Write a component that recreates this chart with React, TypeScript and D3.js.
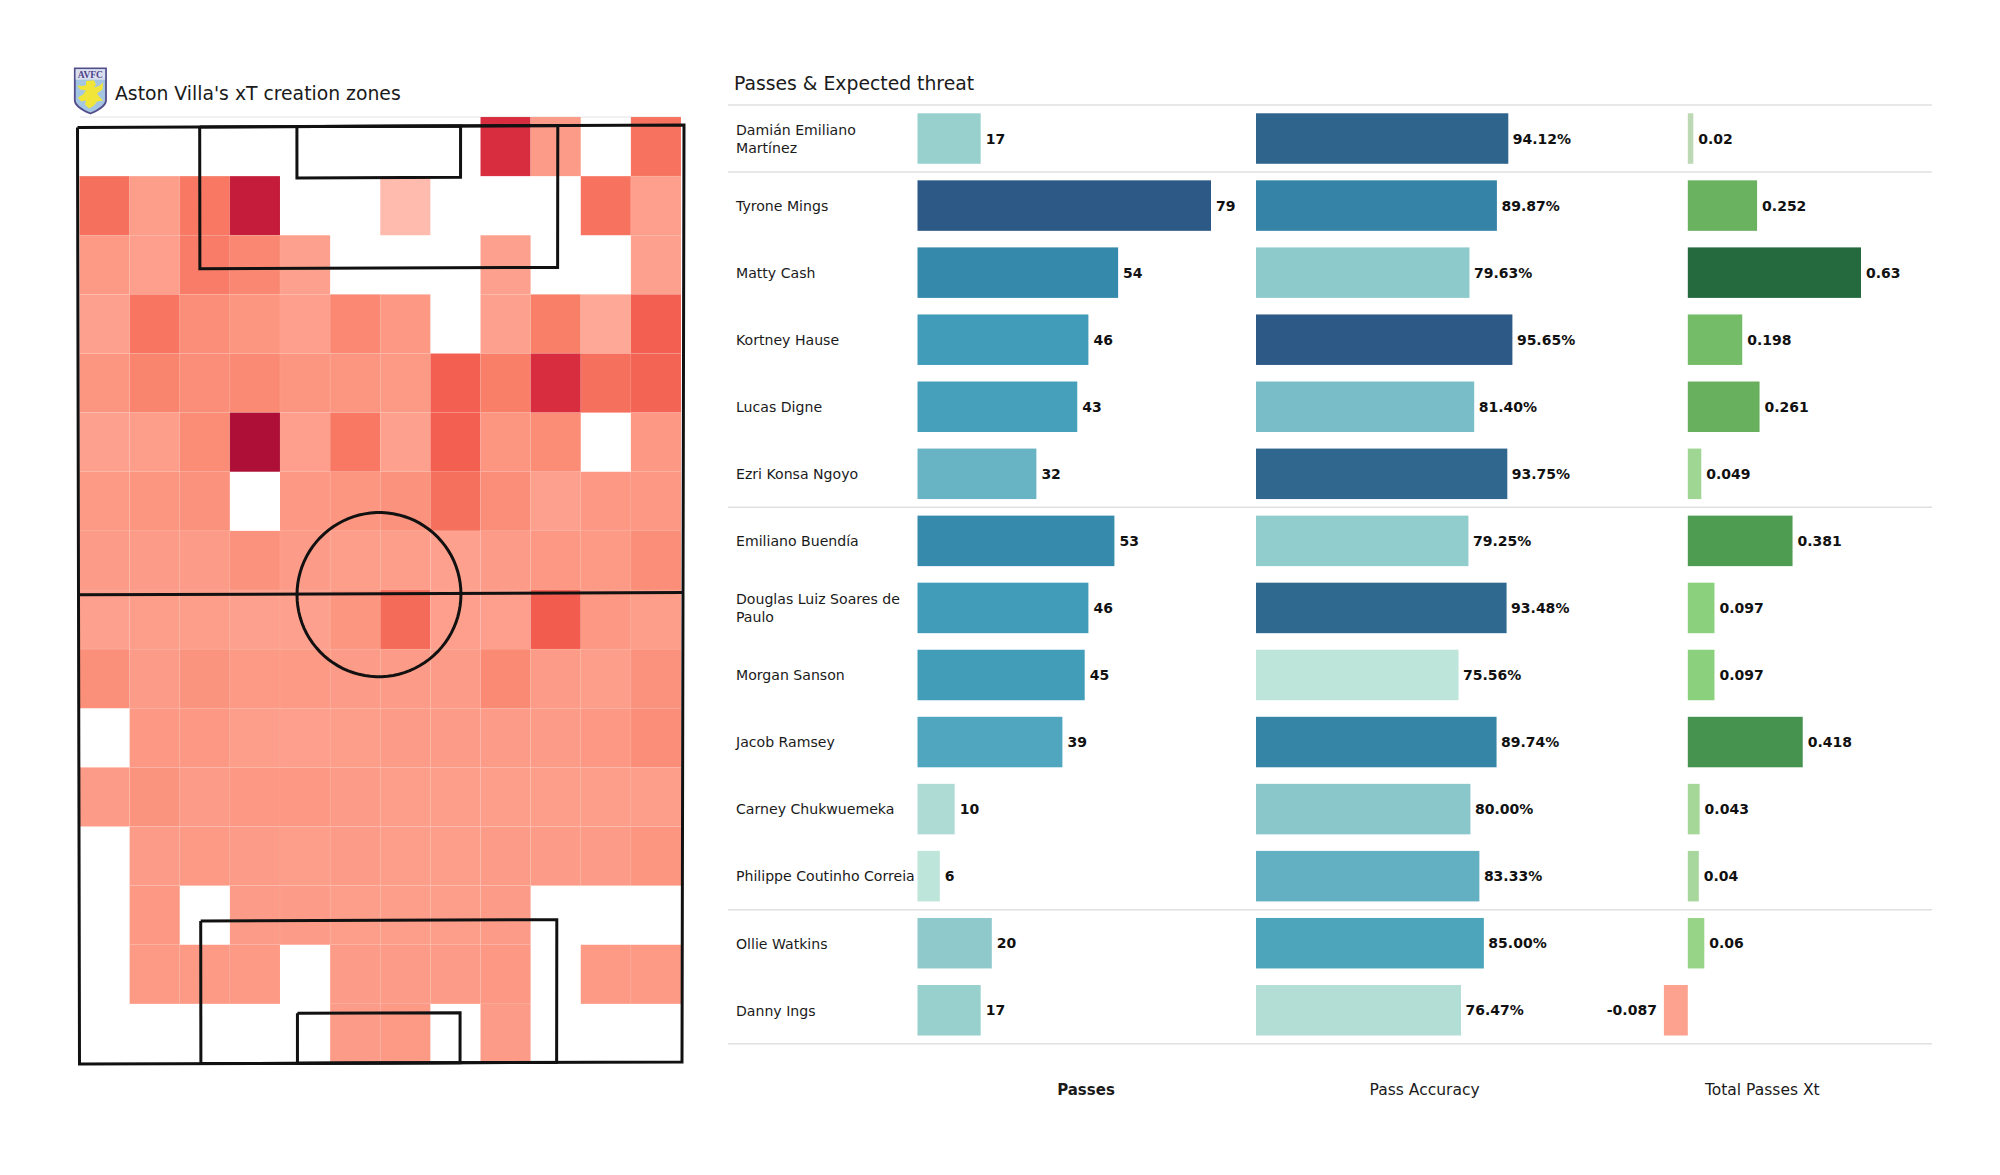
import React from "react";
import * as d3 from "d3";

const FONT = "'DejaVu Sans', sans-serif";

// ---- Heat map (rows top to bottom, null = no value)
const heatRows: (number | null)[][] = [
  [null, null, null, null, null, null, null, null, 80, 25, null, 48],
  [50, 24, 45, 90, null, null, 8, null, null, null, 48, 23],
  [26, 23, 42, 36, 22, null, null, null, 22, null, null, 22],
  [22, 47, 32, 28, 23, 35, 27, null, 22, 40, 17, 57],
  [28, 37, 32, 34, 28, 28, 26, 57, 40, 80, 50, 55],
  [22, 24, 33, 100, 23, 45, 22, 57, 28, 33, null, 27],
  [26, 28, 30, null, 27, 28, 30, 50, 32, 22, 27, 27],
  [25, 25, 25, 30, 25, 24, 24, 22, 25, 27, 26, 32],
  [22, 24, 24, 22, 22, 28, 52, 23, 23, 58, 27, 24],
  [31, 25, 29, 26, 26, 25, 25, 25, 34, 25, 24, 30],
  [null, 27, 27, 24, 23, 24, 25, 25, 25, 25, 27, 32],
  [25, 29, 25, 27, 27, 25, 24, 24, 24, 24, 24, 24],
  [null, 25, 26, 25, 24, 25, 24, 24, 25, 25, 25, 28],
  [null, 27, null, 25, 25, 24, 24, 24, 25, null, null, null],
  [null, 26, 26, 26, null, 25, 25, 25, 27, null, 26, 26],
  [null, null, null, null, null, 25, 26, null, 25, null, null, null],
];

// ---- Player table
const players = [
  "Damián Emiliano\nMartínez", "Tyrone Mings", "Matty Cash", "Kortney Hause", "Lucas Digne",
  "Ezri Konsa Ngoyo", "Emiliano Buendía", "Douglas Luiz Soares de\nPaulo", "Morgan Sanson",
  "Jacob Ramsey", "Carney Chukwuemeka", "Philippe Coutinho Correia", "Ollie Watkins", "Danny Ings",
];
const passes = [17, 79, 54, 46, 43, 32, 53, 46, 45, 39, 10, 6, 20, 17];
const accuracy = [94.12, 89.87, 79.63, 95.65, 81.4, 93.75, 79.25, 93.48, 75.56, 89.74, 80, 83.33, 85, 76.47];
const xT = [0.02, 0.252, 0.63, 0.198, 0.261, 0.049, 0.381, 0.097, 0.097, 0.418, 0.043, 0.04, 0.06, -0.087];
const groupEnds = [0, 1, 6, 12, 14];
const columnTitles = ["Passes", "Pass Accuracy", "Total Passes Xt"];

// ---- Scales
const heatColor = d3.scaleLinear<string>()
  .domain([8, 17, 25, 32, 40, 50, 58, 80, 90, 100])
  .range(["#ffbbae", "#fea897", "#fc9c88", "#fb8e78", "#f97f69", "#f6705e", "#f25c4e", "#d82c3f", "#c41c3a", "#ad0f36"]);
const cellX = d3.scaleBand<number>().domain(d3.range(12)).range([79.5, 681]);
const cellY = d3.scaleBand<number>().domain(d3.range(16)).range([117, 1063]);

const rowY = d3.scaleBand<number>().domain(d3.range(players.length)).range([105, 1043.8]).paddingInner(0.247).paddingOuter(0.1235);
const passX = d3.scaleLinear().domain([0, 79]).range([917.5, 1211]);
const accX = d3.scaleLinear().domain([0, 94.12]).range([1256, 1508.3]);
const xtX = d3.scaleLinear().domain([0, 0.63]).range([1687.8, 1861]);

const passColor = d3.scaleLinear<string>()
  .domain([6, 10, 17, 20, 32, 39, 46, 54, 79])
  .range(["#bde5da", "#aedbd4", "#98d0ce", "#8fc9cc", "#69b4c4", "#51a6bf", "#409cb8", "#3589aa", "#2d5986"]);
const accColor = d3.scaleLinear<string>()
  .domain([75.56, 76.47, 79.25, 81.4, 83.33, 85, 89.8, 93.6, 95.65])
  .range(["#bde5da", "#b3ded6", "#92cdcd", "#78bdc8", "#62b0c1", "#4da5bc", "#3585a7", "#30688f", "#2d5986"]);
const xtColor = d3.scaleLinear<string>()
  .domain([-0.087, 0, 0.02, 0.04, 0.06, 0.097, 0.198, 0.26, 0.381, 0.418, 0.63])
  .range(["#fca28f", "#fca28f", "#bdd8b5", "#a7d79c", "#98d488", "#8bd07c", "#75bc69", "#68b05d", "#4e9c52", "#45934e", "#246a3e"]);

// ---- Pitch (metres), mapped on the slightly skewed frame of the picture
const PW = 68, PL = 105;
const pu = d3.scaleLinear().domain([0, PW]).range([0, 1]);
const pv = d3.scaleLinear().domain([0, PL]).range([0, 1]);
const TL = [77.5, 127.5], TR = [684, 125], BR = [682, 1062], BL = [79.5, 1064];
const proj = (x: number, y: number): [number, number] => {
  const u = pu(x), v = pv(y);
  const top = [TL[0] + (TR[0] - TL[0]) * u, TL[1] + (TR[1] - TL[1]) * u];
  const bot = [BL[0] + (BR[0] - BL[0]) * u, BL[1] + (BR[1] - BL[1]) * u];
  return [top[0] + (bot[0] - top[0]) * v, top[1] + (bot[1] - top[1]) * v];
};
const pline = d3.line<[number, number]>().x((p) => proj(p[0], p[1])[0]).y((p) => proj(p[0], p[1])[1]);
const rectPts = (x0: number, y0: number, x1: number, y1: number): [number, number][] => [
  [x0, y0], [x1, y0], [x1, y1], [x0, y1], [x0, y0],
];
const boxL = 13.7, boxR = 53.85, boxTopD = 15.9, boxBotD = 16.0, sixL = 24.6, sixR = 42.95, sixD = 5.75, centerU = 33.8;
const pitchPaths = [
  rectPts(0, 0, PW, PL),
  rectPts(boxL, 0, boxR, boxTopD),
  rectPts(sixL, 0, sixR, sixD),
  rectPts(boxL, PL - boxBotD, boxR, PL),
  rectPts(sixL, PL - 5.6, sixR, PL),
  [[0, 52.4], [PW, 52.4]] as [number, number][],
  d3.range(0, 361, 4).map((a) => [
    centerU + 9.22 * Math.cos((a * Math.PI) / 180),
    52.5 + 9.2 * Math.sin((a * Math.PI) / 180),
  ]) as [number, number][],
];

const Crest = () => (
  <g transform="translate(74,67.5)">
    <path d="M0.8,0.8 H32 V33 Q32,39.5 16.4,46 Q0.8,39.5 0.8,33 Z" fill="#a4c6e2" stroke="#544d8c" strokeWidth="1.8" />
    <rect x="1.7" y="1.7" width="29.4" height="10.5" fill="#d9dfee" />
    <text x="16.4" y="10.4" textAnchor="middle" fontFamily="'Liberation Serif', serif" fontWeight="bold" fontSize="9.5" fill="#4f3f8a">AVFC</text>
    <path d="M12,13.5 L20,12.8 L22,17 L20,20 L25,18.5 L29,15 L28.5,22 L23,26 L26,30 L29,33 L23,34 L20,38 L15,41 L11,37 L12,33 L7,34 L4,30 L9,27 L12,23 L6,22 L3.5,18 L9,18.5 L12,17.5 Z" fill="#f2e53a" />
  </g>
);

const Row = ({ i }: { i: number }) => {
  const y = rowY(i)!;
  const h = rowY.bandwidth();
  const cy = y + h / 2;
  const lines = players[i].split("\n");
  const x = xT[i];
  const value = { fontFamily: FONT, fontSize: 14, fontWeight: 700, fill: "#111", dominantBaseline: "central" as const };
  return (
    <g>
      <text x={736} y={cy} fontFamily={FONT} fontSize={14.1} fill="#1a1a1a">
        {lines.map((l, k) => (
          <tspan key={k} x={736} y={cy + 5.3 + (k - (lines.length - 1) / 2) * 17.5}>{l}</tspan>
        ))}
      </text>
      <rect x={passX(0)} y={y} width={passX(passes[i]) - passX(0)} height={h} fill={passColor(passes[i])} />
      <text x={passX(passes[i]) + 5} y={cy} {...value}>{passes[i]}</text>
      <rect x={accX(0)} y={y} width={accX(accuracy[i]) - accX(0)} height={h} fill={accColor(accuracy[i])} />
      <text x={accX(accuracy[i]) + 4.5} y={cy} {...value}>{accuracy[i].toFixed(2)}%</text>
      <rect x={Math.min(xtX(0), xtX(x))} y={y} width={Math.abs(xtX(x) - xtX(0))} height={h} fill={xtColor(x)} />
      <text x={xtX(x) + (x < 0 ? -7 : 5)} y={cy} textAnchor={x < 0 ? "end" : "start"} {...value}>{x}</text>
    </g>
  );
};

export default function App() {
  const titleX = [1086, 1424.6, 1762.3];
  return (
    <svg width={2000} height={1175} viewBox="0 0 2000 1175" style={{ position: "absolute", left: 0, top: 0, display: "block", background: "#fff" }}>
      <Crest />
      <text x={115} y={100} fontFamily={FONT} fontSize={18.8} fill="#1a1a1a">Aston Villa's xT creation zones</text>
      <line x1={80} x2={680} y1={117} y2={117} stroke="#e4e4e4" strokeWidth={1.2} />

      {heatRows.map((row, r) =>
        row.map((v, c) =>
          v == null ? null : (
            <rect key={`${r}-${c}`} x={cellX(c)} y={cellY(r)} width={cellX.bandwidth()} height={cellY.bandwidth()}
              fill={heatColor(v)} stroke="#fff" strokeOpacity={0.07} strokeWidth={0.8} />
          )
        )
      )}
      {pitchPaths.map((p, i) => (
        <path key={i} d={pline(p) ?? ""} fill="none" stroke="#111" strokeWidth={3} strokeLinejoin="miter" />
      ))}

      <text x={734} y={90} fontFamily={FONT} fontSize={18.8} fill="#1a1a1a">Passes & Expected threat</text>
      {groupEnds.map((g) => {
        const ly = 105 + rowY.step() * g;
        return <line key={g} x1={728} x2={1932} y1={ly} y2={ly} stroke="#e0e0e0" strokeWidth={1.5} />;
      })}
      {players.map((_, i) => <Row key={i} i={i} />)}
      {columnTitles.map((t, i) => (
        <text key={t} x={titleX[i]} y={1090} textAnchor="middle" dominantBaseline="central" fontFamily={FONT} fontSize={i === 0 ? 15 : 15.5}
          fontWeight={i === 0 ? 700 : 400} fill="#1a1a1a">{t}</text>
      ))}
    </svg>
  );
}
